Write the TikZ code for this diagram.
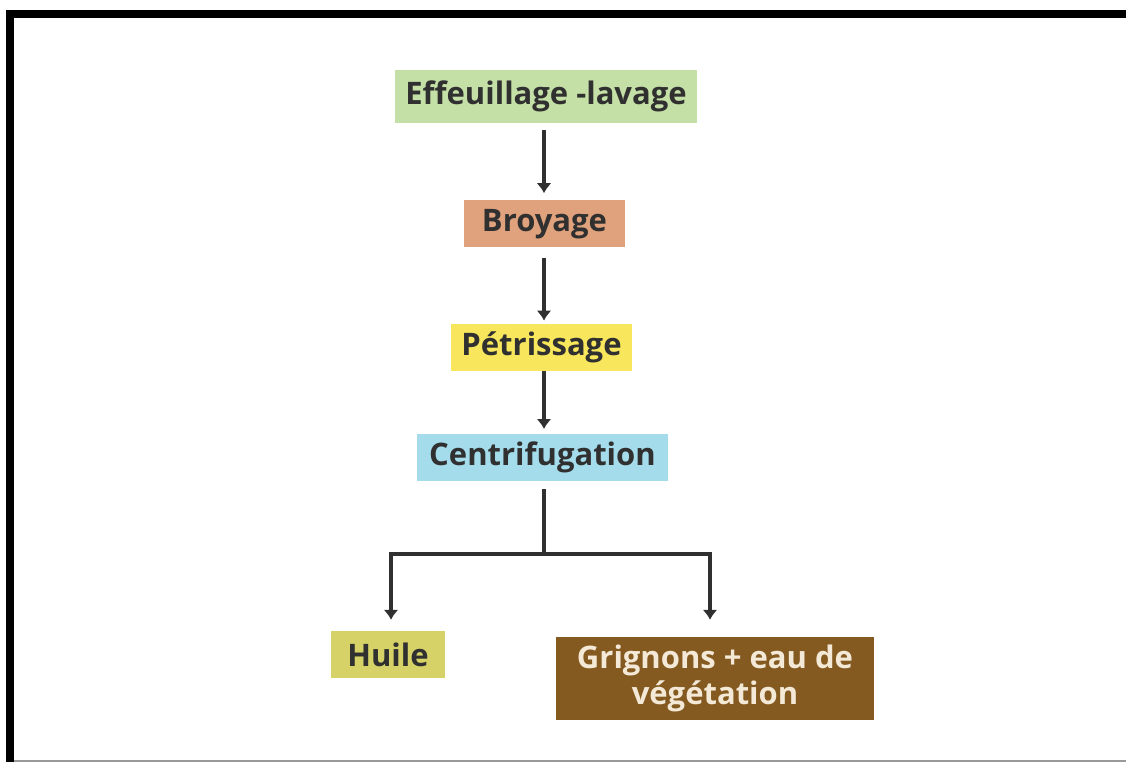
\documentclass[tikz,border=0pt]{standalone}
\usepackage{fontspec}
\setmainfont{Open Sans}
\usepackage{xcolor}
\usetikzlibrary{positioning}
\usetikzlibrary{arrows.meta}
\definecolor{vertclair}{HTML}{C5E0A6}
\definecolor{saumon}{HTML}{E0A27C}
\definecolor{jaune}{HTML}{F8E65C}
\definecolor{bleuclair}{HTML}{A4DCEC}
\definecolor{olive}{HTML}{D6D267}
\definecolor{brun}{HTML}{845A21}
\definecolor{creme}{HTML}{F3E9D6}
\definecolor{encre}{HTML}{303030}
\tikzset{
	etape/.style={
		rectangle,
		align=center,
		inner sep=0pt,
		minimum height=47pt,
		text=encre,
		font=\fontsize{31}{36}\selectfont\bfseries
	},
	fleche/.style={
		draw=encre,
		line width=3.8pt,
		-{Latex[width=15pt,length=10pt]}
	}
}

\begin{document}
\begin{tikzpicture}[x=1pt,y=1pt]
		\useasboundingbox (0,0) rectangle (1126,-762);
		% cadre
		\fill[black] (6,-10) rectangle (1126,-18);
		\fill[black] (6,-10) rectangle (14,-762);
		\fill[black!40] (14,-760) rectangle (1126,-762);
		
		\draw node[etape, fill=vertclair, minimum width=302pt, minimum height=53pt] (Effeuillage) at (546,-96.5) {Effeuillage -lavage};
		\draw node[etape, fill=saumon, minimum width=161pt, below=77pt of Effeuillage, xshift=-1.5pt] (Broyage) {Broyage};
		\draw node[etape, fill=jaune, minimum width=181pt, below=76pt of Broyage, xshift=-3pt] (Petrissage) {Pétrissage};
		\draw node[etape, fill=bleuclair, minimum width=251pt, below=63pt of Petrissage, xshift=1pt] (Centrifugation) {Centrifugation};
		\draw node[etape, fill=olive, minimum width=114pt] (Huile) at (388,-654.5) {Huile};
		\draw node[etape, fill=brun, text=creme, minimum width=318pt, minimum height=83pt] (Grignons) at (715,-678.5) {Grignons + eau de\\végétation};
		
		\coordinate (fourche) at (544,-554);
		
		\draw [fleche, shorten <=7pt, shorten >=7pt] (Effeuillage.south -| fourche) -- (Broyage.north -| fourche);
		\draw [fleche, shorten <=10pt, shorten >=3pt] (Broyage.south -| fourche) -- (Petrissage.north -| fourche);
		\draw [fleche, shorten >=5pt] (Petrissage.south -| fourche) -- (Centrifugation.north -| fourche);
		\draw [draw=encre, line width=3.8pt, shorten <=8pt] (Centrifugation.south -| fourche) -- (fourche);
		\draw [fleche] (fourche) -| ([xshift=3pt, yshift=11pt]Huile.north);
		\draw [fleche] (fourche) -| ([xshift=-5pt, yshift=17pt]Grignons.north);
	\end{tikzpicture}
\end{document}
